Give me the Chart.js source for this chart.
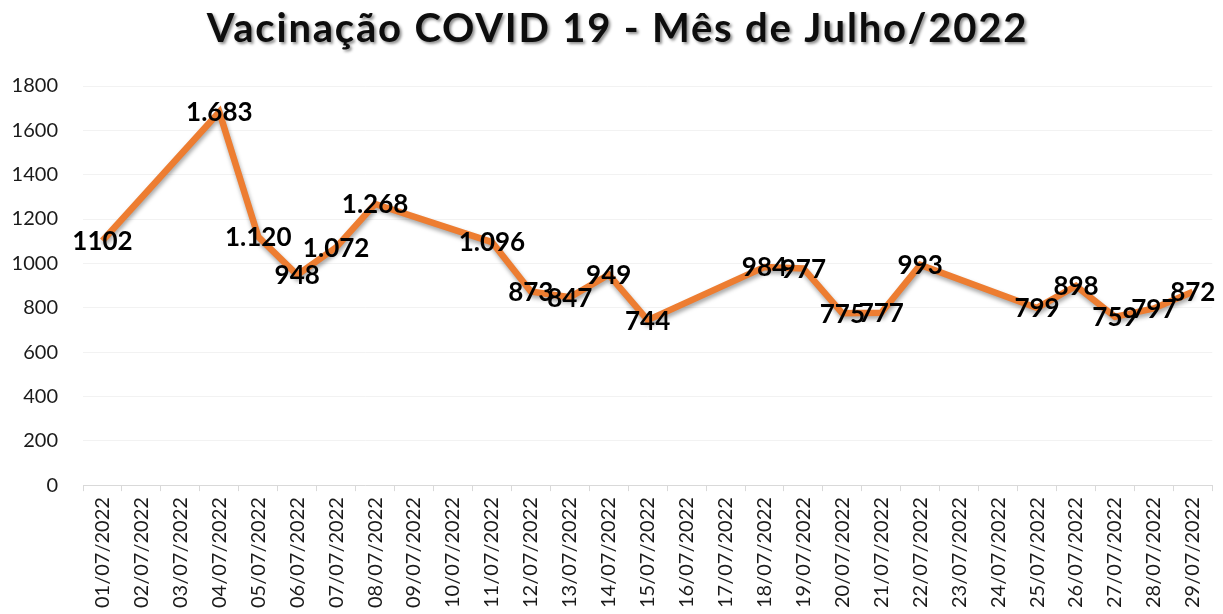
<!DOCTYPE html>
<html lang="pt-BR">
<head>
<meta charset="utf-8">
<title>Vacinação COVID 19 - Julho/2022</title>
<script src="https://cdn.jsdelivr.net/npm/chart.js@4.4.1/dist/chart.umd.min.js"></script>
<style>
  html, body { margin: 0; padding: 0; background: #ffffff; }
  #grafico-wrap { position: relative; width: 1223px; height: 614px; }
</style>
</head>
<body>
<div id="grafico-wrap"><canvas id="chart-vacinas"></canvas></div>
<script>
// ===============================
// DADOS
// ===============================
const titulo = "Vacinação COVID 19 - Mês de Julho/2022";

const dias = [
    "01/07/2022", "02/07/2022", "03/07/2022", "04/07/2022", "05/07/2022",
    "06/07/2022", "07/07/2022", "08/07/2022", "09/07/2022", "10/07/2022",
    "11/07/2022", "12/07/2022", "13/07/2022", "14/07/2022", "15/07/2022",
    "16/07/2022", "17/07/2022", "18/07/2022", "19/07/2022", "20/07/2022",
    "21/07/2022", "22/07/2022", "23/07/2022", "24/07/2022", "25/07/2022",
    "26/07/2022", "27/07/2022", "28/07/2022", "29/07/2022"
];

// dias sem registro ficam null (a linha liga os vizinhos)
const vacinas = [
    1102, null, null, 1683, 1120,
    948, 1072, 1268, null, null,
    1096, 873, 847, 949, 744,
    null, null, 984, 977, 775,
    777, 993, null, null, 799,
    898, 759, 797, 872
];

const eixoY = { min: 0, max: 1800, passo: 200 };


// ===============================
// CONFIGURAÇÃO GLOBAL
// ===============================
Chart.defaults.font.family = "Lato, 'Open Sans', Arial, sans-serif";
Chart.defaults.color = "#262626";

const LARANJA = "#ED7D31";


// ===============================
// FORMATO DOS RÓTULOS
// ===============================
function formatarValor(valor, indice) {
    // o primeiro rótulo aparece sem separador de milhar
    if (indice === 0) return String(valor);
    return String(valor).replace(/\B(?=(\d{3})+(?!\d))/g, ".");
}


// ===============================
// PLUGINS
// ===============================
// título com sombra e espaçamento entre letras
const tituloSombra = {
    id: "tituloSombra",
    afterDraw(chart) {
        const ctx = chart.ctx;
        ctx.save();
        ctx.font = "bold 40px Lato, 'Open Sans', sans-serif";
        ctx.letterSpacing = "1.8px";
        ctx.textAlign = "center";
        ctx.textBaseline = "alphabetic";
        ctx.shadowColor = "rgba(0,0,0,0.45)";
        ctx.shadowBlur = 3;
        ctx.shadowOffsetX = 2;
        ctx.shadowOffsetY = 2;
        ctx.fillStyle = "#0d0d0d";
        ctx.fillText(titulo, chart.width / 2 + 6, 42);
        ctx.restore();
    }
};

// sombra suave sob a linha
const sombraLinha = {
    id: "sombraLinha",
    beforeDatasetDraw(chart) {
        const ctx = chart.ctx;
        ctx.save();
        ctx.shadowColor = "rgba(0,0,0,0.35)";
        ctx.shadowBlur = 4;
        ctx.shadowOffsetX = 1;
        ctx.shadowOffsetY = 3;
    },
    afterDatasetDraw(chart) {
        chart.ctx.restore();
    }
};

// rótulos de valor centralizados em cada ponto
const rotulosValor = {
    id: "rotulosValor",
    afterDatasetsDraw(chart) {
        const ctx = chart.ctx;
        const meta = chart.getDatasetMeta(0);
        const dados = chart.data.datasets[0].data;
        ctx.save();
        ctx.font = "bold 26px Lato, 'Open Sans', sans-serif";
        ctx.fillStyle = "#000000";
        ctx.textAlign = "center";
        ctx.textBaseline = "middle";
        meta.data.forEach((ponto, i) => {
            const v = dados[i];
            if (v === null || v === undefined) return;
            ctx.fillText(formatarValor(v, i), ponto.x, ponto.y + 1);
        });
        ctx.restore();
    }
};


// ===============================
// GRÁFICO
// ===============================
const ctx = document.getElementById("chart-vacinas").getContext("2d");

new Chart(ctx, {
    type: "line",
    data: {
        labels: dias,
        datasets: [{
            data: vacinas,
            borderColor: LARANJA,
            backgroundColor: LARANJA,
            borderWidth: 6.5,
            pointRadius: 0,
            pointHoverRadius: 0,
            tension: 0,
            spanGaps: true,
            fill: false
        }]
    },
    options: {
        responsive: true,
        maintainAspectRatio: false,
        animation: false,
        layout: {
            padding: { top: 86, left: 11, right: 10, bottom: 0 }
        },
        plugins: {
            legend: { display: false },
            title: { display: false },
            tooltip: { enabled: false }
        },
        scales: {
            x: {
                offset: true,
                grid: {
                    offset: true,
                    drawOnChartArea: false,
                    drawTicks: true,
                    tickLength: 6,
                    color: "#d9d9d9"
                },
                border: { display: true, color: "#d9d9d9" },
                ticks: {
                    autoSkip: false,
                    minRotation: 90,
                    maxRotation: 90,
                    padding: 6,
                    color: "#1a1a1a",
                    font: { size: 20 }
                }
            },
            y: {
                min: eixoY.min,
                max: eixoY.max,
                grid: {
                    color: "rgba(0,0,0,0.05)",
                    drawTicks: false
                },
                border: { display: false },
                ticks: {
                    stepSize: eixoY.passo,
                    padding: 25,
                    color: "#1a1a1a",
                    font: { size: 20 },
                    callback: (valor) => String(valor)
                },
                // largura fixa do eixo: rótulos + espaço até a área do gráfico
                afterFit(escala) {
                    escala.width = 72;
                }
            }
        }
    },
    plugins: [sombraLinha, rotulosValor, tituloSombra]
});
</script>
</body>
</html>
